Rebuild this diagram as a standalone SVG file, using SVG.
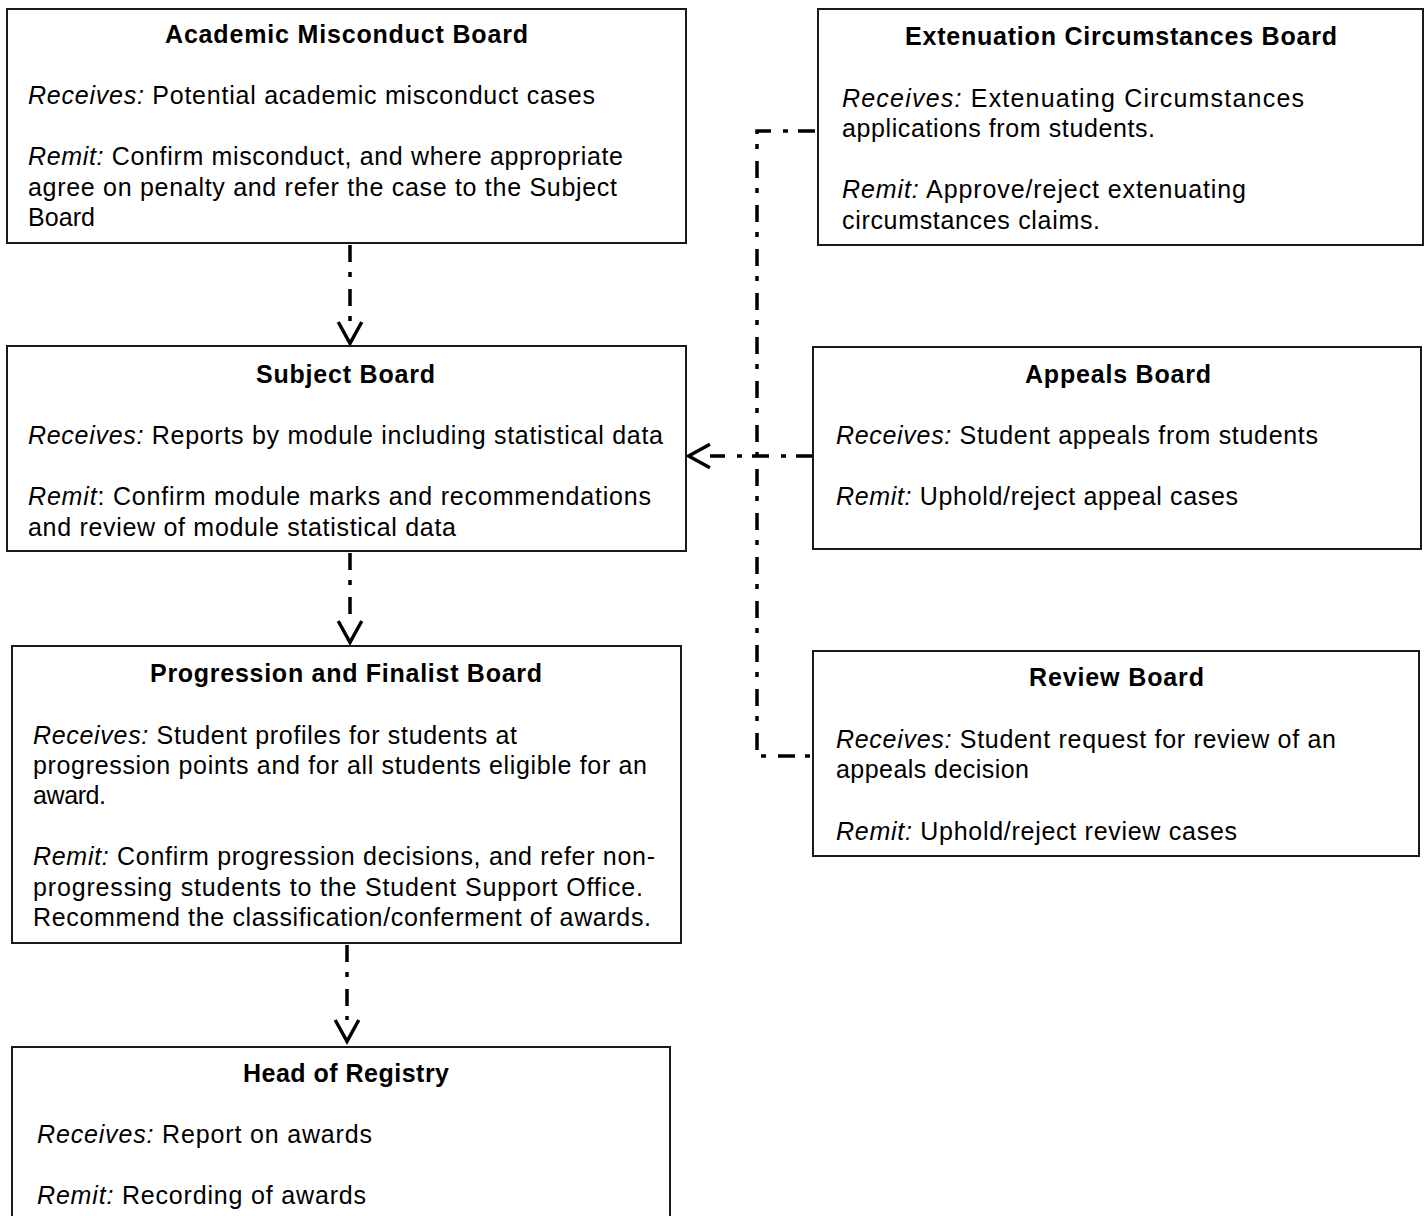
<svg xmlns="http://www.w3.org/2000/svg" width="1427" height="1216" viewBox="0 0 1427 1216">
<style>
.box{fill:#fff;stroke:#1a1a1a;stroke-width:2}
text{font-family:"Liberation Sans",Arial,sans-serif;font-size:25px;fill:#000}
.t{font-weight:bold}
.i{font-style:italic}
.con{fill:none;stroke:#000;stroke-width:3.5;stroke-dasharray:17 10 5 12}
</style>
<defs>
<marker id="arr" markerUnits="userSpaceOnUse" markerWidth="30" markerHeight="30" viewBox="-2 -14 26 28" refX="0" refY="0" orient="auto" overflow="visible">
<path d="M0,-11 L20,0 L0,11" fill="none" stroke="#000" stroke-width="3.2"/>
</marker>
</defs>
<rect width="1427" height="1216" fill="#fff"/>
<g id="connectors">
<path class="con" d="M350,245 V322" marker-end="url(#arr)"/>
<path class="con" d="M350,553 V621" marker-end="url(#arr)"/>
<path class="con" d="M347,945 V1020" marker-end="url(#arr)"/>
<path class="con" d="M815,131 H757 V756 H811"/>
<path class="con" d="M813,456 H710" marker-end="url(#arr)"/>
</g>
<g id="academic-misconduct-board">
<rect class="box" x="7" y="9" width="679" height="234"/>
<text class="t" x="165" y="43" textLength="363">Academic Misconduct Board</text>
<text x="28" y="104" textLength="567"><tspan class="i">Receives:</tspan> Potential academic misconduct cases</text>
<text x="28" y="165" textLength="595"><tspan class="i">Remit:</tspan> Confirm misconduct, and where appropriate</text>
<text x="28" y="196" textLength="589">agree on penalty and refer the case to the Subject</text>
<text x="28" y="226" textLength="67">Board</text>
</g>
<g id="extenuation-circumstances-board">
<rect class="box" x="818" y="9" width="605" height="236"/>
<text class="t" x="905" y="45" textLength="432">Extenuation Circumstances Board</text>
<text x="842" y="107" textLength="462"><tspan class="i">Receives:</tspan>  Extenuating Circumstances</text>
<text x="842" y="137" textLength="313">applications from students.</text>
<text x="842" y="198" textLength="404"><tspan class="i">Remit:</tspan> Approve/reject extenuating</text>
<text x="842" y="229" textLength="258">circumstances claims.</text>
</g>
<g id="subject-board">
<rect class="box" x="7" y="346" width="679" height="205"/>
<text class="t" x="256" y="383" textLength="179">Subject Board</text>
<text x="28" y="444" textLength="635"><tspan class="i">Receives:</tspan> Reports by module including statistical data</text>
<text x="28" y="505" textLength="623"><tspan class="i">Remit</tspan>: Confirm module marks and recommendations</text>
<text x="28" y="536" textLength="428">and review of module statistical data</text>
</g>
<g id="appeals-board">
<rect class="box" x="813" y="347" width="608" height="202"/>
<text class="t" x="1025" y="383" textLength="186">Appeals Board</text>
<text x="836" y="444" textLength="482"><tspan class="i">Receives:</tspan> Student appeals from students</text>
<text x="836" y="505" textLength="402"><tspan class="i">Remit:</tspan> Uphold/reject appeal cases</text>
</g>
<g id="progression-and-finalist-board">
<rect class="box" x="12" y="646" width="669" height="297"/>
<text class="t" x="150" y="682" textLength="392">Progression and Finalist Board</text>
<text x="33" y="744" textLength="484"><tspan class="i">Receives:</tspan> Student profiles for students at</text>
<text x="33" y="774" textLength="614">progression points and for all students eligible for an</text>
<text x="33" y="804" textLength="73">award.</text>
<text x="33" y="865" textLength="622"><tspan class="i">Remit:</tspan> Confirm progression decisions, and refer non-</text>
<text x="33" y="896" textLength="610">progressing students to the Student Support Office.</text>
<text x="33" y="926" textLength="618">Recommend the classification/conferment of awards.</text>
</g>
<g id="review-board">
<rect class="box" x="813" y="651" width="606" height="205"/>
<text class="t" x="1029" y="686" textLength="175">Review Board</text>
<text x="836" y="748" textLength="500"><tspan class="i">Receives:</tspan> Student request for review of an</text>
<text x="836" y="778" textLength="193">appeals decision</text>
<text x="836" y="840" textLength="401"><tspan class="i">Remit:</tspan> Uphold/reject review cases</text>
</g>
<g id="head-of-registry">
<rect class="box" x="12" y="1047" width="658" height="200"/>
<text class="t" x="243" y="1082" textLength="206">Head of Registry</text>
<text x="37" y="1143" textLength="335"><tspan class="i">Receives:</tspan> Report on awards</text>
<text x="37" y="1204" textLength="329"><tspan class="i">Remit:</tspan> Recording of awards</text>
</g>
</svg>
